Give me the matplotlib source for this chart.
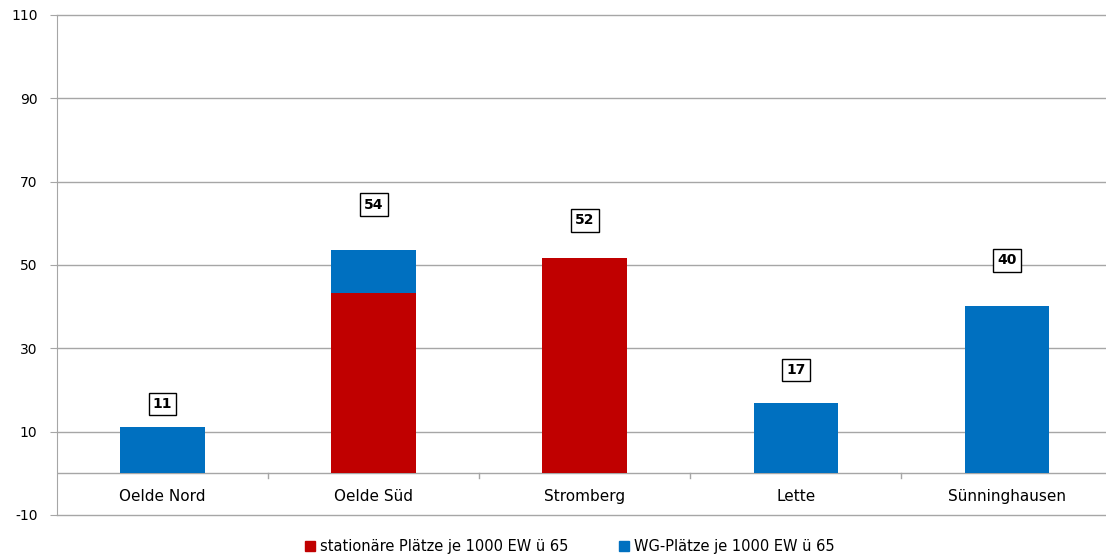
import matplotlib.pyplot as plt
import numpy as np
from matplotlib.patches import Patch

plt.rcParams["axes.unicode_minus"] = False

# data
categories = ["Oelde Nord", "Oelde Süd", "Stromberg", "Lette", "Sünninghausen"]
stationaer = [0, 43.4, 51.7, 0, 0]
wg = [11.2, 10.1, 0, 16.8, 40.1]
label_values = [11, 54, 52, 17, 40]
label_offsets = [5.5, 11, 9, 8, 11]

red = "#C00000"
blue = "#0070C0"
grid_col = "#A6A6A6"

fig = plt.figure(figsize=(11.06, 5.6), dpi=100)
ax = fig.add_axes([57 / 1106, 1 - 515 / 560, 1 - 57 / 1106, 500 / 560])

x = np.arange(len(categories))
ax.bar(x, stationaer, width=0.4, color=red, zorder=3)
ax.bar(x, wg, width=0.4, bottom=stationaer, color=blue, zorder=3)

totals = np.array(stationaer) + np.array(wg)
for xi, t, v, off in zip(x, totals, label_values, label_offsets):
    ax.text(xi, t + off, str(v), ha="center", va="center", fontsize=10,
            fontweight="bold", zorder=5,
            bbox=dict(boxstyle="square,pad=0.3", fc="white", ec="black", lw=1))

ax.set_ylim(-10, 110)
ax.set_xlim(-0.5, 4.47)
ax.set_yticks([-10, 10, 30, 50, 70, 90, 110])
for yv in [-10, 10, 30, 50, 70, 90, 110]:
    ax.axhline(yv, color=grid_col, lw=1, zorder=1, clip_on=False)
ax.tick_params(axis="y", length=5, color=grid_col, labelsize=10, pad=9)

# x axis line at zero with category separators
ax.axhline(0, color=grid_col, lw=1, zorder=2)
for b in np.arange(0.5, 4.5, 1):
    ax.plot([b, b], [0, -1.1], color=grid_col, lw=1, zorder=2)
ax.set_xticks([])
for xi, c in zip(x, categories):
    ax.text(xi, -5.5, c, ha="center", va="center", fontsize=11)

for s in ["top", "right", "bottom"]:
    ax.spines[s].set_visible(False)
ax.spines["left"].set_color(grid_col)

# legend
handles = [Patch(color=red, label="stationäre Plätze je 1000 EW ü 65"),
           Patch(color=blue, label="WG-Plätze je 1000 EW ü 65")]
fig.legend(handles=handles, loc="center", bbox_to_anchor=(0.515, 0.024), ncol=2,
           frameon=False, fontsize=10.5, handlelength=0.7, handleheight=0.7,
           handletextpad=0.3, columnspacing=3.5)

plt.savefig("out.png", dpi=100)
